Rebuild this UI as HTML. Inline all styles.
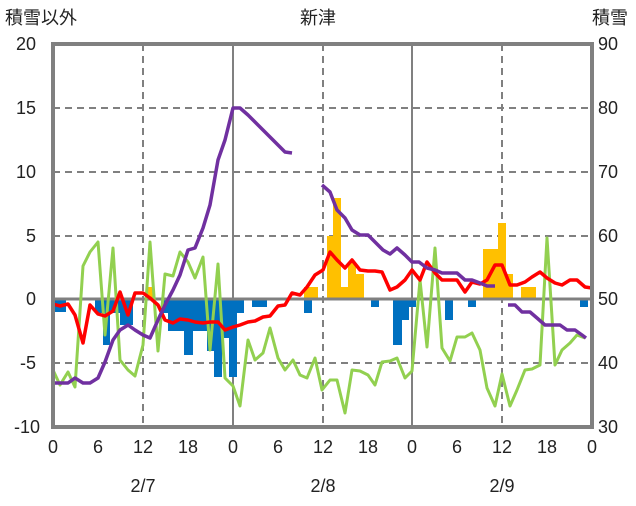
<!DOCTYPE html>
<html><head><meta charset="utf-8"><style>
body{margin:0;background:#fff;}
svg text{font-family:"Liberation Sans","Noto Sans CJK JP",sans-serif;font-size:18px;fill:#222;}
</style></head><body>
<svg width="636" height="501" viewBox="0 0 636 501" xmlns="http://www.w3.org/2000/svg">
<rect width="636" height="501" fill="#fff"/>
<g stroke="#808080" stroke-width="2" stroke-dasharray="7,5">
<line x1="53" y1="108" x2="592" y2="108"/><line x1="53" y1="172" x2="592" y2="172"/>
<line x1="53" y1="236" x2="592" y2="236"/><line x1="53" y1="363" x2="592" y2="363"/>
<line x1="143" y1="44" x2="143" y2="427"/><line x1="323" y1="44" x2="323" y2="427"/><line x1="502" y1="44" x2="502" y2="427"/>
</g>
<g stroke="#808080" stroke-width="2"><line x1="233" y1="44" x2="233" y2="427"/><line x1="412" y1="44" x2="412" y2="427"/></g>
<g fill="#0070c0">
<rect x="53" y="299" width="13" height="13"/><rect x="95" y="299" width="8" height="14"/><rect x="103" y="299" width="7" height="46"/>
<rect x="110" y="299" width="10" height="14"/><rect x="120" y="299" width="13" height="26"/><rect x="163" y="299" width="5" height="14"/>
<rect x="168" y="299" width="16" height="32"/><rect x="184" y="299" width="9" height="56"/><rect x="193" y="299" width="14" height="32"/>
<rect x="207" y="299" width="7" height="52"/><rect x="214" y="299" width="8" height="78"/><rect x="222" y="299" width="7" height="39"/>
<rect x="229" y="299" width="8" height="78"/><rect x="237" y="299" width="7" height="14"/><rect x="252" y="299" width="15" height="8"/>
<rect x="304" y="299" width="8" height="14"/><rect x="371" y="299" width="8" height="8"/><rect x="393" y="299" width="9" height="46"/>
<rect x="402" y="299" width="7" height="21"/><rect x="409" y="299" width="7" height="8"/><rect x="445" y="299" width="8" height="21"/>
<rect x="468" y="299" width="8" height="8"/><rect x="580" y="299" width="8" height="8"/>
</g>
<g fill="#ffc000">
<rect x="148" y="287" width="5" height="12"/><rect x="304" y="287" width="14" height="12"/><rect x="327" y="236" width="6" height="63"/>
<rect x="333" y="198" width="8" height="101"/><rect x="341" y="287" width="7" height="12"/><rect x="348" y="263" width="8" height="36"/>
<rect x="356" y="274" width="8" height="25"/><rect x="483" y="249" width="15" height="50"/><rect x="498" y="223" width="8" height="76"/>
<rect x="506" y="274" width="7" height="25"/><rect x="521" y="287" width="15" height="12"/>
</g>
<line x1="53" y1="299" x2="592" y2="299" stroke="#808080" stroke-width="3"/>
<g fill="none" stroke-width="3" stroke-linejoin="round">
<polyline stroke="#92d050" points="53,370 60,385 68,372 75,387 83,266 90,252 98,242 105,335 113,248 120,360 128,370 135,376 143,345 150,242 158,351 165,274 173,276 180,252 188,262 195,278 203,257 210,350 218,264 225,378 233,386 240,406 248,340 255,360 263,353 270,328 278,358 285,370 293,360 300,375 307,378 315,358 322,390 330,380 337,380 345,413 352,370 360,371 368,375 375,385 382,362 390,361 397,358 405,378 412,371 420,280 427,347 435,248 442,348 450,361 457,337 465,337 472,333 480,350 487,388 495,406 502,374 510,406 517,390 525,370 532,369 540,365 547,238 555,365 562,350 570,343 577,335 585,338"/>
<polyline stroke="#ff0000" stroke-width="3.5" points="53,304 60,306 68,304 75,315 83,343 90,305 98,314 105,316 113,311 120,292 128,315 135,293 143,293 150,298 158,305 165,320 173,323 180,319 188,320 195,322 203,323 210,322 218,322 225,330 233,327 240,325 248,322 255,321 263,317 270,316 278,306 285,305 292,293 300,295 307,287 315,275 323,270 330,252 337,260 345,268 352,260 360,270 368,271 375,271 382,272 390,290 397,287 405,280 412,270 420,280 427,262 435,273 442,280 450,280 457,280 465,292 472,282 480,284 487,280 495,265 502,265 510,285 517,285 525,282 532,277 540,272 547,278 555,283 562,285 570,280 577,280 585,287 592,288"/>
<polyline stroke="#7030a0" stroke-width="3.5" points="53,383 68,383 75,378 83,383 90,383 98,378 105,362 113,340 120,330 128,325 135,330 143,335 150,338 158,320 165,305 173,290 180,275 188,250 195,248 203,228 210,205 218,160 225,140 230,120 233,108 240,108 248,115 255,122 263,130 270,137 278,145 285,152 292,153"/>
<polyline stroke="#7030a0" stroke-width="3.5" points="322,185 330,192 337,210 345,218 352,230 360,235 368,235 375,242 383,250 390,254 397,248 405,255 412,262 419,262 427,268 435,270 442,273 457,273 465,280 472,280 480,283 487,286 495,286"/>
<polyline stroke="#7030a0" stroke-width="3.5" points="508,305 515,305 522,312 530,312 537,318 545,325 560,325 567,330 575,330 582,335 586,338"/>
</g>
<rect x="53" y="44" width="539" height="383" fill="none" stroke="#808080" stroke-width="4"/>
<text x="5" y="24">積雪以外</text><text x="318" y="24" text-anchor="middle">新津</text><text x="628" y="24" text-anchor="end">積雪</text>
<g text-anchor="end"><text x="36" y="50">20</text><text x="36" y="114">15</text><text x="36" y="178">10</text><text x="36" y="242">5</text><text x="36" y="305">0</text><text x="36" y="369">-5</text><text x="40" y="433">-10</text></g>
<g><text x="598" y="50">90</text><text x="598" y="114">80</text><text x="598" y="178">70</text><text x="598" y="242">60</text><text x="598" y="305">50</text><text x="598" y="369">40</text><text x="598" y="433">30</text></g>
<g text-anchor="middle"><text x="53" y="453">0</text><text x="98" y="453">6</text><text x="143" y="453">12</text><text x="188" y="453">18</text><text x="233" y="453">0</text><text x="278" y="453">6</text><text x="323" y="453">12</text><text x="368" y="453">18</text><text x="412" y="453">0</text><text x="457" y="453">6</text><text x="502" y="453">12</text><text x="547" y="453">18</text><text x="592" y="453">0</text>
<text x="143" y="492">2/7</text><text x="323" y="492">2/8</text><text x="502" y="492">2/9</text></g>
</svg>
</body></html>
